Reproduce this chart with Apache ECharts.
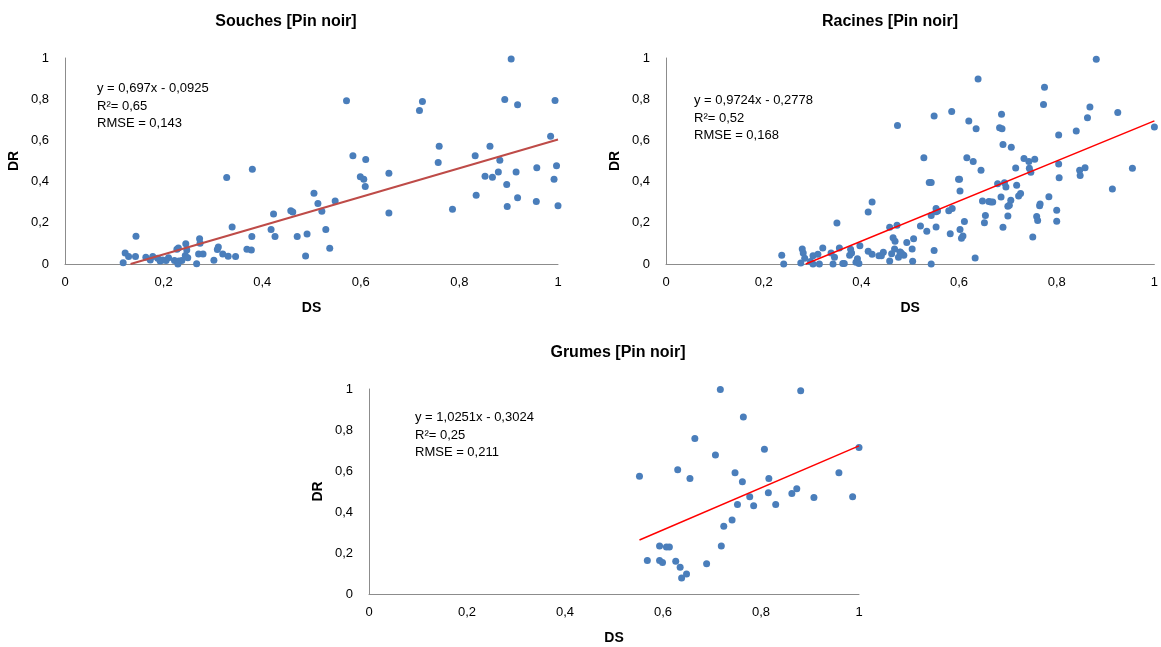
<!DOCTYPE html>
<html><head><meta charset="utf-8">
<script src="https://cdn.jsdelivr.net/npm/echarts@6/dist/echarts.min.js"></script>
<style>html,body{margin:0;padding:0;background:#fff}#c{width:1161px;height:647px}</style>
</head><body><div id="c"></div>
<script>
const titles = ["Souches [Pin noir]", "Racines [Pin noir]", "Grumes [Pin noir]"];
const equations = [
  ["y = 0,697x - 0,0925", "R²= 0,65", "RMSE = 0,143"],
  ["y = 0,9724x - 0,2778", "R²= 0,52", "RMSE = 0,168"],
  ["y = 1,0251x - 0,3024", "R²= 0,25", "RMSE = 0,211"]
];
const slopes = [0.697, 0.9724, 1.0251];
const intercepts = [-0.0925, -0.2778, -0.3024];
const trendFromX = [0.133, 0.286, 0.552];
const trendToX = [1, 1, 1];

const souchesDS = [0.118,0.122,0.129,0.144,0.143,0.164,0.173,0.178,0.188,0.193,0.198,0.205,0.21,0.222,0.227,0.23,0.231,0.229,0.237,0.245,0.244,0.249,0.247,0.267,0.273,0.271,0.28,0.274,0.302,0.311,0.309,0.32,0.328,0.331,0.339,0.346,0.369,0.378,0.38,0.379,0.418,0.423,0.426,0.458,0.462,0.471,0.488,0.491,0.505,0.513,0.521,0.529,0.537,0.548,0.571,0.584,0.599,0.606,0.61,0.609,0.657,0.657,0.719,0.725,0.757,0.759,0.786,0.832,0.834,0.852,0.862,0.867,0.879,0.882,0.892,0.896,0.897,0.905,0.915,0.918,0.918,0.956,0.957,0.985,0.992,0.994,0.997,1.0];
const souchesDR = [0.006,0.054,0.036,0.135,0.036,0.033,0.02,0.036,0.028,0.014,0.02,0.017,0.03,0.017,0.072,0.078,0.014,0.0,0.017,0.098,0.041,0.03,0.068,0.001,0.122,0.049,0.049,0.101,0.018,0.082,0.07,0.049,0.42,0.038,0.18,0.036,0.072,0.068,0.46,0.133,0.167,0.243,0.133,0.258,0.253,0.133,0.039,0.146,0.344,0.294,0.256,0.167,0.077,0.306,0.792,0.526,0.424,0.411,0.507,0.376,0.441,0.247,0.745,0.789,0.493,0.572,0.266,0.526,0.334,0.426,0.572,0.421,0.446,0.504,0.799,0.386,0.279,0.995,0.446,0.773,0.321,0.303,0.467,0.62,0.411,0.794,0.477,0.283];

const racinesDS = [0.237,0.241,0.276,0.279,0.281,0.284,0.296,0.301,0.301,0.311,0.314,0.321,0.338,0.342,0.345,0.35,0.355,0.362,0.365,0.376,0.378,0.38,0.389,0.392,0.395,0.397,0.414,0.414,0.422,0.422,0.436,0.441,0.445,0.458,0.458,0.462,0.465,0.468,0.469,0.473,0.474,0.476,0.48,0.487,0.493,0.504,0.505,0.507,0.479,0.483,0.521,0.528,0.534,0.539,0.543,0.543,0.549,0.549,0.543,0.553,0.553,0.553,0.556,0.579,0.582,0.585,0.586,0.599,0.601,0.602,0.602,0.605,0.608,0.611,0.616,0.62,0.629,0.633,0.635,0.639,0.645,0.648,0.652,0.654,0.661,0.665,0.669,0.679,0.683,0.686,0.687,0.688,0.69,0.69,0.693,0.696,0.7,0.7,0.703,0.706,0.707,0.716,0.718,0.722,0.726,0.733,0.743,0.744,0.747,0.751,0.755,0.759,0.761,0.765,0.766,0.773,0.775,0.784,0.8,0.8,0.804,0.804,0.805,0.84,0.847,0.848,0.858,0.863,0.868,0.881,0.914,0.925,0.955,1.0];
const racinesDR = [0.042,0.0,0.005,0.073,0.054,0.028,0.012,0.04,0.0,0.047,0.0,0.078,0.054,0.0,0.033,0.199,0.078,0.002,0.002,0.042,0.071,0.054,0.008,0.026,0.002,0.089,0.252,0.062,0.301,0.047,0.04,0.04,0.057,0.178,0.015,0.05,0.128,0.073,0.11,0.188,0.672,0.033,0.057,0.042,0.104,0.073,0.013,0.123,0.058,0.05,0.185,0.516,0.159,0.396,0.396,0.236,0.065,0.719,0.0,0.27,0.254,0.18,0.257,0.259,0.147,0.74,0.27,0.412,0.412,0.354,0.167,0.125,0.136,0.206,0.516,0.694,0.498,0.029,0.657,0.898,0.455,0.306,0.2,0.236,0.303,0.301,0.301,0.39,0.662,0.325,0.727,0.657,0.58,0.178,0.395,0.374,0.28,0.233,0.285,0.309,0.567,0.466,0.382,0.33,0.342,0.512,0.498,0.465,0.445,0.131,0.508,0.23,0.211,0.283,0.291,0.774,0.858,0.327,0.261,0.207,0.626,0.485,0.419,0.646,0.455,0.43,0.467,0.71,0.762,0.994,0.364,0.736,0.465,0.665];

const grumesDS = [0.552,0.568,0.593,0.593,0.599,0.607,0.613,0.626,0.63,0.635,0.638,0.648,0.655,0.665,0.689,0.707,0.717,0.719,0.724,0.741,0.747,0.752,0.762,0.764,0.777,0.785,0.807,0.815,0.816,0.83,0.863,0.873,0.881,0.908,0.959,0.987,1.0];
const grumesDR = [0.574,0.163,0.234,0.163,0.154,0.229,0.229,0.16,0.606,0.131,0.078,0.098,0.564,0.759,0.147,0.678,0.998,0.234,0.33,0.361,0.592,0.437,0.548,0.863,0.474,0.43,0.706,0.494,0.564,0.437,0.49,0.513,0.992,0.471,0.592,0.474,0.715];

const pts = [[souchesDS, souchesDR],[racinesDS, racinesDR],[grumesDS, grumesDR]];
const grids = [
  {left: 65, top: 58, width: 493, height: 206},
  {left: 666, top: 58, width: 494, height: 206},
  {left: 369, top: 389, width: 490, height: 205}
];
const titlePos = [[281, 9], [885, 9], [613, 340]];
const annoPos = [[97, 80], [694, 92], [415, 409]];
const trendColors = ['#be4b48', '#ff0000', '#ff0000'];
const trendWidths = [2, 1.5, 1.5];
const fmt = v => String(v).replace('.', ',');
const font = 'Liberation Sans, Arial, sans-serif';

const option = {
  animation: false,
  backgroundColor: '#fff',
  title: titles.map((t, i) => ({
    text: t, left: titlePos[i][0], top: titlePos[i][1], textAlign: 'center',
    textStyle: {fontFamily: font, fontWeight: 'bold', fontSize: 16, color: '#000'}
  })),
  grid: grids.map(g => Object.assign({containLabel: false}, g)),
  xAxis: grids.map((g, i) => ({
    gridIndex: i, type: 'value', min: 0, max: 1, interval: 0.2,
    name: 'DS', nameLocation: 'middle', nameGap: 37,
    nameTextStyle: {fontFamily: font, fontWeight: 'bold', fontSize: 14, color: '#000'},
    axisLine: {show: true, lineStyle: {color: '#8c8c8c', width: 1}},
    axisTick: {show: false}, splitLine: {show: false},
    axisLabel: {formatter: fmt, fontFamily: font, fontSize: 13, color: '#000', margin: 12}
  })),
  yAxis: grids.map((g, i) => ({
    gridIndex: i, type: 'value', min: 0, max: 1, interval: 0.2,
    name: 'DR', nameLocation: 'middle', nameGap: 44, nameRotate: 90,
    nameTextStyle: {fontFamily: font, fontWeight: 'bold', fontSize: 14, color: '#000'},
    axisLine: {show: true, lineStyle: {color: '#8c8c8c', width: 1}},
    axisTick: {show: false}, splitLine: {show: false},
    axisLabel: {formatter: fmt, fontFamily: font, fontSize: 13, color: '#000', margin: 16}
  })),
  series: [],
  graphic: annoPos.map((p, i) => ({
    type: 'text', left: p[0], top: p[1],
    style: {text: equations[i].join('\n'), font: '13px ' + font, fill: '#000', lineHeight: 17.5}
  }))
};

pts.forEach((p, i) => {
  option.series.push({
    type: 'scatter', xAxisIndex: i, yAxisIndex: i,
    data: p[0].map((x, k) => [x, p[1][k]]),
    symbolSize: 7, itemStyle: {color: '#4a7ebb', opacity: 1}, z: 2
  });
  const x0 = trendFromX[i], x1 = trendToX[i];
  option.series.push({
    type: 'line', xAxisIndex: i, yAxisIndex: i, showSymbol: false, clip: false,
    data: [[x0, slopes[i] * x0 + intercepts[i]], [x1, slopes[i] * x1 + intercepts[i]]],
    lineStyle: {color: trendColors[i], width: trendWidths[i]}, z: 3
  });
});

const chart = echarts.init(document.getElementById('c'), null, {renderer: 'canvas'});
chart.setOption(option);
</script>
</body></html>
